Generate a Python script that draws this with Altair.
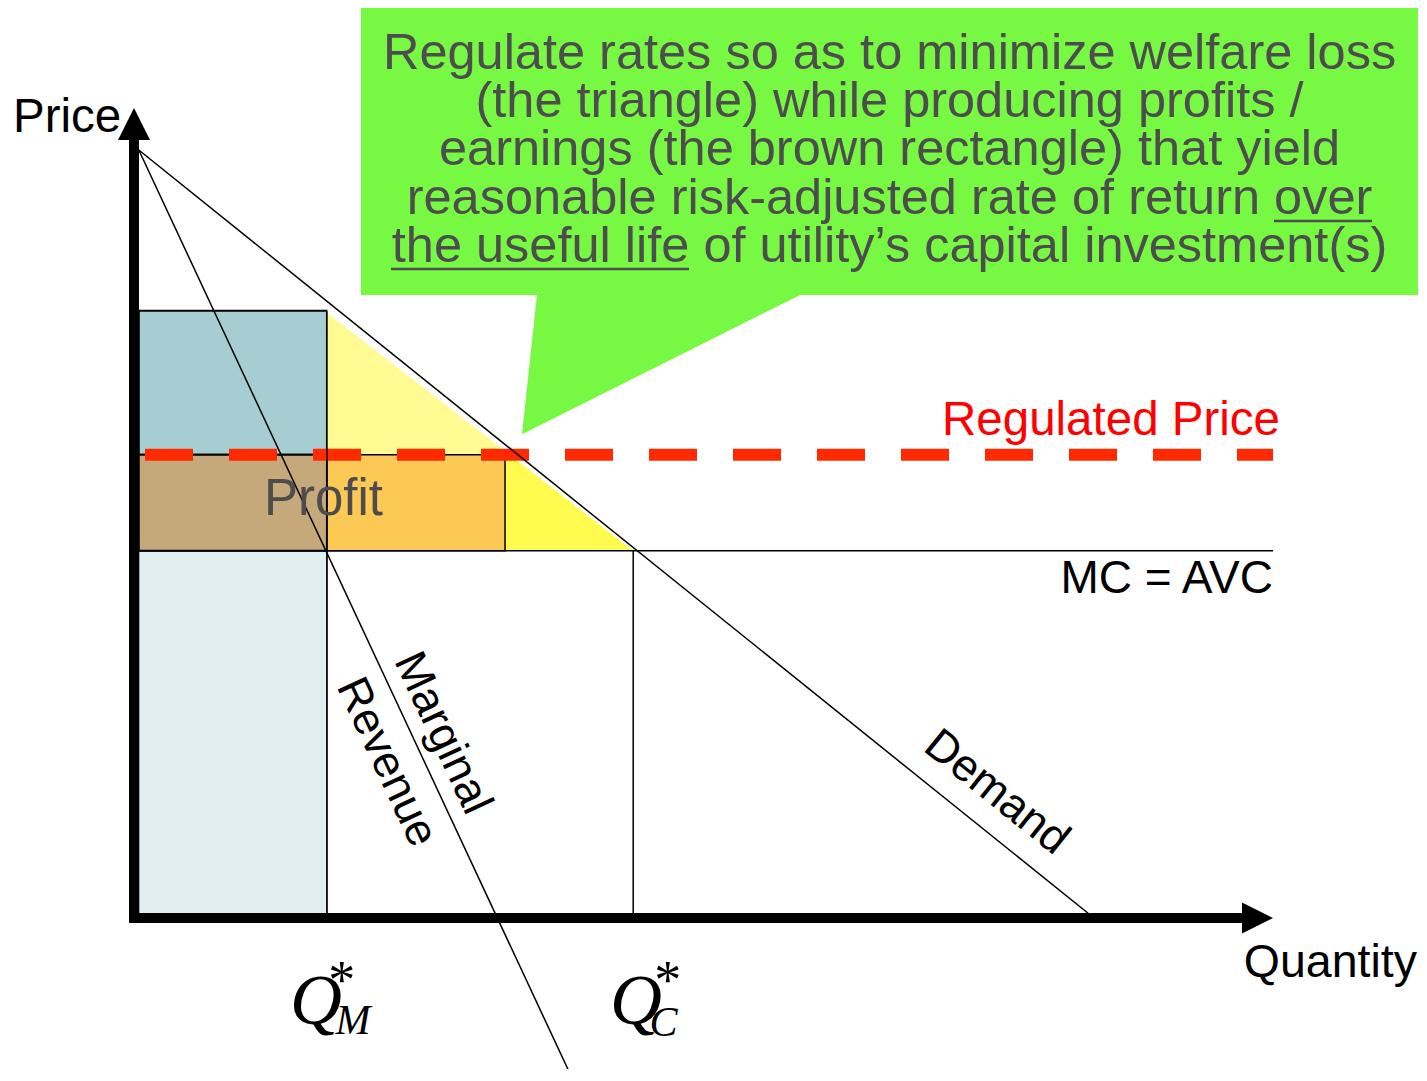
import altair as alt
import pandas as pd

# ---------------- values (quantity / price units) ----------------
demand_q = [0.1, 20.0]
demand_p = [16.0, 0.0]
mr_q = [0.1, 9.11]
mr_p = [16.0, -3.3]

q_start = 0.1          # left edge of the shaded areas
q_monopoly = 4.02      # Q*_M
q_regulated = 7.73     # output at regulated price (orange rectangle edge)
q_competitive = 10.4   # Q*_C
q_triangle_end = 10.45
q_hyp_at_reg = 7.88    # triangle hypotenuse at the regulated price
q_line_end = 23.73     # right end of MC and regulated-price lines

p_monopoly = 12.65
p_regulated = 9.65
p_mc = 7.65

callout_lines = [
    "Regulate rates so as to minimize welfare loss",
    "(the triangle) while producing profits /",
    "earnings (the brown rectangle) that yield",
    "reasonable risk-adjusted rate of return over",
    "the useful life of utility\u2019s capital investment(s)",
]
callout_baselines = [17.6875, 16.6875, 15.6875, 14.667, 13.667]

# ---------------- scales ----------------
XS = alt.Scale(domain=[-2.625, 26.7708], nice=False, zero=False)
YS = alt.Scale(domain=[-3.146, 18.958], nice=False, zero=False)
FONT = "Liberation Sans"
SERIF = "Liberation Serif"


def X(f):
    return alt.X(f, type="quantitative", scale=XS, axis=None)


def Y(f):
    return alt.Y(f, type="quantitative", scale=YS, axis=None)


def rect(x0, x1, y0, y1, fill, stroke="black", sw=1.5, opacity=1):
    df = pd.DataFrame({"x0": [x0], "x1": [x1], "y0": [y0], "y1": [y1]})
    return alt.Chart(df).mark_rect(fill=fill, stroke=stroke, strokeWidth=sw, opacity=opacity).encode(
        x=X("x0"), x2="x1", y=Y("y0"), y2="y1")


def seg(x0, y0, x1, y1, color="black", sw=1.5, dash=None, cap="butt"):
    df = pd.DataFrame({"x0": [x0], "x1": [x1], "y0": [y0], "y1": [y1]})
    kw = dict(color=color, strokeWidth=sw, strokeCap=cap)
    if dash:
        kw["strokeDash"] = dash
    return alt.Chart(df).mark_rule(**kw).encode(x=X("x0"), x2="x1", y=Y("y0"), y2="y1")


def label(x, y, text, size, color="black", align="left", baseline="alphabetic",
          angle=0, font=FONT, style="normal"):
    df = pd.DataFrame({"x": [x], "y": [y], "t": [text]})
    kw = dict(fontSize=size, color=color, align=align, baseline=baseline, font=font,
              fontStyle=style)
    if angle:
        kw["angle"] = angle
    return alt.Chart(df).mark_text(**kw).encode(x=X("x"), y=Y("y"), text="t:N")


layers = []

# shaded areas
layers.append(rect(q_start, q_monopoly, 0, p_mc, "#E0EEEF", sw=1))
layers.append(rect(q_start, q_monopoly, p_regulated, p_monopoly, "#A6CDD1", sw=2))

tri = pd.DataFrame({"q": [q_monopoly, q_triangle_end], "top": [p_monopoly, p_mc],
                    "bot": [p_mc, p_mc]})
layers.append(alt.Chart(tri).mark_area(color="#FFFA91", opacity=1).encode(
    x=X("q"), y=Y("top"), y2="bot"))
tri2 = pd.DataFrame({"q": [q_regulated, q_hyp_at_reg, q_triangle_end],
                     "top": [p_regulated, p_regulated, p_mc], "bot": [p_mc, p_mc, p_mc]})
layers.append(alt.Chart(tri2).mark_area(color="#FFFB4F", opacity=1).encode(
    x=X("q"), y=Y("top"), y2="bot"))
layers.append(seg(q_monopoly, p_monopoly, q_triangle_end, p_mc, color="white", sw=3))

layers.append(rect(q_start, q_monopoly, p_mc, p_regulated, "#C6A97A", sw=2))
layers.append(rect(q_monopoly, q_regulated, p_mc, p_regulated, "#FDC955", sw=1.5))

# regulated price (dashed red)
layers.append(seg(0.229, p_regulated, q_line_end, p_regulated, color="#FF2A00", sw=12,
                  dash=[48, 36]))

# lines
layers.append(seg(q_start, p_mc, q_line_end, p_mc, sw=1.5))
layers.append(seg(q_monopoly, 0, q_monopoly, p_monopoly, sw=1.5))
layers.append(seg(q_competitive, 0, q_competitive, p_mc, sw=1.5))
dem = pd.DataFrame({"q": demand_q, "p": demand_p})
layers.append(alt.Chart(dem).mark_line(color="black", strokeWidth=1.5).encode(x=X("q"), y=Y("p")))
mr = pd.DataFrame({"q": mr_q, "p": mr_p})
layers.append(alt.Chart(mr).mark_line(color="black", strokeWidth=1.5).encode(x=X("q"), y=Y("p")))

# axes
layers.append(seg(0, -0.104, 0, 16.21, sw=10))
layers.append(seg(-0.104, 0, 23.146, 0, sw=10))
arr = pd.DataFrame({"x": [0], "y": [16.542]})
layers.append(alt.Chart(arr).mark_point(shape="M -1 1 L 0 -1 L 1 1 Z", size=1024, filled=True,
                                        color="black", opacity=1).encode(x=X("x"), y=Y("y")))
arr2 = pd.DataFrame({"x": [23.406], "y": [0]})
layers.append(alt.Chart(arr2).mark_point(shape="M -1 -1 L 1 0 L -1 1 Z", size=961, filled=True,
                                         color="black", opacity=1).encode(x=X("x"), y=Y("y")))

# callout
GREEN = "#77F842"
layers.append(rect(4.729, 26.75, 12.979, 18.979, GREEN, stroke=GREEN, sw=0))
ptr = pd.DataFrame({"p": [10.08, 13.2], "xa": [8.083, 8.419], "xb": [8.083, 14.317]})
layers.append(alt.Chart(ptr).mark_area(orient="horizontal", color=GREEN, opacity=1).encode(
    y=Y("p"), x=X("xa"), x2="xb"))
cl = pd.DataFrame({"x": [15.74] * 5, "y": callout_baselines, "t": callout_lines})
layers.append(alt.Chart(cl).mark_text(fontSize=50.5, color="#4D4D4D", align="center",
                                      baseline="alphabetic", font=FONT).encode(
    x=X("x"), y=Y("y"), text="t:N"))
layers.append(seg(23.75, 14.521, 25.79, 14.521, color="#4D4D4D", sw=2.5))
layers.append(seg(5.354, 13.521, 11.5625, 13.521, color="#4D4D4D", sw=2.5))

# labels
layers.append(label(-2.521, 16.375, "Price", 47.5))
layers.append(label(23.12, -1.229, "Quantity", 46.5))
layers.append(label(23.729, 6.771, "MC = AVC", 46, align="right"))
layers.append(label(23.875, 10.063, "Regulated Price", 47.5, color="#FF0000", align="right"))
layers.append(label(3.948, 8.396, "Profit", 51, color="#4D4D4D", align="center"))
layers.append(label(6.438, 3.854, "Marginal", 45, align="center", baseline="middle", angle=65))
layers.append(label(5.271, 3.25, "Revenue", 45, align="center", baseline="middle", angle=65))
layers.append(label(17.979, 2.625, "Demand", 45, align="center", baseline="middle", angle=38.7))

# Q*_M and Q*_C
layers.append(label(3.25, -2.208, "Q", 72, font=SERIF, style="italic"))
layers.append(label(4.2, -2.417, "M", 42, font=SERIF, style="italic"))
layers.append(label(4.33, -1.667, "*", 54, font=SERIF, align="center"))
layers.append(label(9.917, -2.208, "Q", 72, font=SERIF, style="italic"))
layers.append(label(10.74, -2.458, "C", 42, font=SERIF, style="italic"))
layers.append(label(11.12, -1.667, "*", 54, font=SERIF, align="center"))

chart = alt.layer(*layers).properties(
    width=1411, height=1061, padding=0,
    autosize=alt.AutoSizeParams(type="none"),
).configure_view(strokeWidth=0)

chart.save("out.html", embed_options={"renderer": "svg", "actions": False})
